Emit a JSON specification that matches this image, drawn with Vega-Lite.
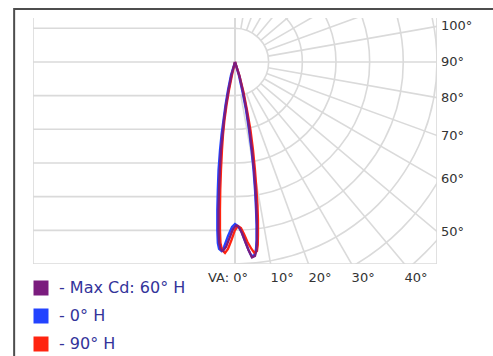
{
  "$schema": "https://vega.github.io/schema/vega-lite/v6.json",
  "width": 404,
  "height": 246,
  "autosize": {"type": "none"},
  "padding": {"left": 33, "top": 18, "right": 56, "bottom": 92},
  "background": "white",
  "config": {"view": {"stroke": null}, "font": "DejaVu Sans"},
  "datasets": {
    "frame": [{"x": -6.56, "x2": 14, "y": 1.575, "y2": -14}],
    "lines": [
      {"x": -6, "x2": 0, "y": 1, "y2": 1},
      {"x": -6, "x2": 6, "y": 0, "y2": 0},
      {"x": -6, "x2": 0, "y": -1, "y2": -1},
      {"x": -6, "x2": 0, "y": -2, "y2": -2},
      {"x": -6, "x2": 0, "y": -3, "y2": -3},
      {"x": -6, "x2": 0, "y": -4, "y2": -4},
      {"x": -6, "x2": 0, "y": -5, "y2": -5},
      {"x": -6, "x2": 6, "y": -6, "y2": -6},
      {"x": -6, "x2": -6, "y": -6, "y2": 1.306},
      {"x": 0, "x2": 0, "y": -6, "y2": 1.306},
      {"x": 6, "x2": 6, "y": -6, "y2": 1.306},
      {"x": 0.1736, "y": -0.9848, "x2": 1.736, "y2": -9.848},
      {"x": 0.342, "y": -0.9397, "x2": 3.42, "y2": -9.397},
      {"x": 0.5, "y": -0.866, "x2": 5, "y2": -8.66},
      {"x": 0.6428, "y": -0.766, "x2": 6.428, "y2": -7.66},
      {"x": 0.766, "y": -0.6428, "x2": 7.66, "y2": -6.428},
      {"x": 0.866, "y": -0.5, "x2": 8.66, "y2": -5},
      {"x": 0.9397, "y": -0.342, "x2": 9.397, "y2": -3.42},
      {"x": 0.9848, "y": -0.1736, "x2": 9.848, "y2": -1.736},
      {"x": 0.9848, "y": 0.1736, "x2": 9.848, "y2": 1.736},
      {"x": 0.9397, "y": 0.342, "x2": 9.397, "y2": 3.42},
      {"x": 0.866, "y": 0.5, "x2": 8.66, "y2": 5},
      {"x": 0.766, "y": 0.6428, "x2": 7.66, "y2": 6.428},
      {"x": 0.6428, "y": 0.766, "x2": 6.428, "y2": 7.66},
      {"x": 0.5, "y": 0.866, "x2": 5, "y2": 8.66},
      {"x": 0.342, "y": 0.9397, "x2": 3.42, "y2": 9.397},
      {"x": 0.1736, "y": 0.9848, "x2": 1.736, "y2": 9.848}
    ],
    "rings": [{"r": 1}, {"r": 2}, {"r": 3}, {"r": 4}, {"r": 5}, {"r": 6}, {"r": 7}, {"r": 8}],
    "rlabels": [
      {"t": "100°", "y": 1.058},
      {"t": "90°", "y": 0},
      {"t": "80°", "y": -1.058},
      {"t": "70°", "y": -2.184},
      {"t": "60°", "y": -3.464},
      {"t": "50°", "y": -5.035}
    ],
    "blabels": [
      {"t": "10°", "x": 1.058},
      {"t": "20°", "x": 2.184},
      {"t": "30°", "x": 3.464},
      {"t": "40°", "x": 5.035}
    ],
    "curves": [
      {"s": "Max Cd: 60° H", "i": 0, "x": 0, "y": 0},
      {"s": "Max Cd: 60° H", "i": 1, "x": -0.104, "y": -0.386},
      {"s": "Max Cd: 60° H", "i": 2, "x": -0.193, "y": -0.832},
      {"s": "Max Cd: 60° H", "i": 3, "x": -0.267, "y": -1.277},
      {"s": "Max Cd: 60° H", "i": 4, "x": -0.327, "y": -1.723},
      {"s": "Max Cd: 60° H", "i": 5, "x": -0.371, "y": -2.168},
      {"s": "Max Cd: 60° H", "i": 6, "x": -0.416, "y": -2.614},
      {"s": "Max Cd: 60° H", "i": 7, "x": -0.451, "y": -3.208},
      {"s": "Max Cd: 60° H", "i": 8, "x": -0.475, "y": -3.802},
      {"s": "Max Cd: 60° H", "i": 9, "x": -0.49, "y": -4.396},
      {"s": "Max Cd: 60° H", "i": 10, "x": -0.49, "y": -4.99},
      {"s": "Max Cd: 60° H", "i": 11, "x": -0.475, "y": -5.346},
      {"s": "Max Cd: 60° H", "i": 12, "x": -0.431, "y": -5.554},
      {"s": "Max Cd: 60° H", "i": 13, "x": -0.356, "y": -5.613},
      {"s": "Max Cd: 60° H", "i": 14, "x": -0.267, "y": -5.495},
      {"s": "Max Cd: 60° H", "i": 15, "x": -0.163, "y": -5.228},
      {"s": "Max Cd: 60° H", "i": 16, "x": -0.059, "y": -4.96},
      {"s": "Max Cd: 60° H", "i": 17, "x": 0.03, "y": -4.856},
      {"s": "Max Cd: 60° H", "i": 18, "x": 0.119, "y": -4.901},
      {"s": "Max Cd: 60° H", "i": 19, "x": 0.208, "y": -5.079},
      {"s": "Max Cd: 60° H", "i": 20, "x": 0.297, "y": -5.317},
      {"s": "Max Cd: 60° H", "i": 21, "x": 0.401, "y": -5.584},
      {"s": "Max Cd: 60° H", "i": 22, "x": 0.505, "y": -5.806},
      {"s": "Max Cd: 60° H", "i": 23, "x": 0.594, "y": -5.762},
      {"s": "Max Cd: 60° H", "i": 24, "x": 0.639, "y": -5.584},
      {"s": "Max Cd: 60° H", "i": 25, "x": 0.653, "y": -5.287},
      {"s": "Max Cd: 60° H", "i": 26, "x": 0.653, "y": -4.841},
      {"s": "Max Cd: 60° H", "i": 27, "x": 0.639, "y": -4.396},
      {"s": "Max Cd: 60° H", "i": 28, "x": 0.609, "y": -3.802},
      {"s": "Max Cd: 60° H", "i": 29, "x": 0.564, "y": -3.208},
      {"s": "Max Cd: 60° H", "i": 30, "x": 0.505, "y": -2.614},
      {"s": "Max Cd: 60° H", "i": 31, "x": 0.431, "y": -2.02},
      {"s": "Max Cd: 60° H", "i": 32, "x": 0.342, "y": -1.426},
      {"s": "Max Cd: 60° H", "i": 33, "x": 0.238, "y": -0.891},
      {"s": "Max Cd: 60° H", "i": 34, "x": 0.134, "y": -0.416},
      {"s": "Max Cd: 60° H", "i": 35, "x": 0, "y": 0},
      {"s": "0° H", "i": 0, "x": 0, "y": 0},
      {"s": "0° H", "i": 1, "x": -0.119, "y": -0.386},
      {"s": "0° H", "i": 2, "x": -0.208, "y": -0.832},
      {"s": "0° H", "i": 3, "x": -0.282, "y": -1.277},
      {"s": "0° H", "i": 4, "x": -0.342, "y": -1.723},
      {"s": "0° H", "i": 5, "x": -0.401, "y": -2.168},
      {"s": "0° H", "i": 6, "x": -0.446, "y": -2.614},
      {"s": "0° H", "i": 7, "x": -0.49, "y": -3.208},
      {"s": "0° H", "i": 8, "x": -0.511, "y": -3.802},
      {"s": "0° H", "i": 9, "x": -0.526, "y": -4.396},
      {"s": "0° H", "i": 10, "x": -0.526, "y": -4.99},
      {"s": "0° H", "i": 11, "x": -0.511, "y": -5.376},
      {"s": "0° H", "i": 12, "x": -0.475, "y": -5.554},
      {"s": "0° H", "i": 13, "x": -0.401, "y": -5.613},
      {"s": "0° H", "i": 14, "x": -0.327, "y": -5.495},
      {"s": "0° H", "i": 15, "x": -0.208, "y": -5.168},
      {"s": "0° H", "i": 16, "x": -0.089, "y": -4.901},
      {"s": "0° H", "i": 17, "x": 0, "y": -4.811},
      {"s": "0° H", "i": 18, "x": 0.089, "y": -4.871},
      {"s": "0° H", "i": 19, "x": 0.193, "y": -5.049},
      {"s": "0° H", "i": 20, "x": 0.297, "y": -5.317},
      {"s": "0° H", "i": 21, "x": 0.401, "y": -5.584},
      {"s": "0° H", "i": 22, "x": 0.49, "y": -5.762},
      {"s": "0° H", "i": 23, "x": 0.579, "y": -5.732},
      {"s": "0° H", "i": 24, "x": 0.624, "y": -5.554},
      {"s": "0° H", "i": 25, "x": 0.639, "y": -5.287},
      {"s": "0° H", "i": 26, "x": 0.639, "y": -4.841},
      {"s": "0° H", "i": 27, "x": 0.624, "y": -4.396},
      {"s": "0° H", "i": 28, "x": 0.594, "y": -3.802},
      {"s": "0° H", "i": 29, "x": 0.549, "y": -3.208},
      {"s": "0° H", "i": 30, "x": 0.49, "y": -2.614},
      {"s": "0° H", "i": 31, "x": 0.416, "y": -2.02},
      {"s": "0° H", "i": 32, "x": 0.327, "y": -1.426},
      {"s": "0° H", "i": 33, "x": 0.223, "y": -0.891},
      {"s": "0° H", "i": 34, "x": 0.119, "y": -0.416},
      {"s": "0° H", "i": 35, "x": 0, "y": 0},
      {"s": "90° H", "i": 0, "x": 0, "y": 0},
      {"s": "90° H", "i": 1, "x": -0.089, "y": -0.386},
      {"s": "90° H", "i": 2, "x": -0.178, "y": -0.832},
      {"s": "90° H", "i": 3, "x": -0.252, "y": -1.277},
      {"s": "90° H", "i": 4, "x": -0.312, "y": -1.723},
      {"s": "90° H", "i": 5, "x": -0.356, "y": -2.168},
      {"s": "90° H", "i": 6, "x": -0.386, "y": -2.614},
      {"s": "90° H", "i": 7, "x": -0.416, "y": -3.208},
      {"s": "90° H", "i": 8, "x": -0.437, "y": -3.802},
      {"s": "90° H", "i": 9, "x": -0.446, "y": -4.396},
      {"s": "90° H", "i": 10, "x": -0.446, "y": -4.99},
      {"s": "90° H", "i": 11, "x": -0.431, "y": -5.376},
      {"s": "90° H", "i": 12, "x": -0.386, "y": -5.584},
      {"s": "90° H", "i": 13, "x": -0.297, "y": -5.673},
      {"s": "90° H", "i": 14, "x": -0.208, "y": -5.554},
      {"s": "90° H", "i": 15, "x": -0.104, "y": -5.287},
      {"s": "90° H", "i": 16, "x": 0, "y": -4.99},
      {"s": "90° H", "i": 17, "x": 0.089, "y": -4.871},
      {"s": "90° H", "i": 18, "x": 0.178, "y": -4.93},
      {"s": "90° H", "i": 19, "x": 0.267, "y": -5.109},
      {"s": "90° H", "i": 20, "x": 0.371, "y": -5.346},
      {"s": "90° H", "i": 21, "x": 0.49, "y": -5.554},
      {"s": "90° H", "i": 22, "x": 0.579, "y": -5.673},
      {"s": "90° H", "i": 23, "x": 0.653, "y": -5.613},
      {"s": "90° H", "i": 24, "x": 0.677, "y": -5.435},
      {"s": "90° H", "i": 25, "x": 0.683, "y": -5.138},
      {"s": "90° H", "i": 26, "x": 0.683, "y": -4.693},
      {"s": "90° H", "i": 27, "x": 0.668, "y": -4.247},
      {"s": "90° H", "i": 28, "x": 0.639, "y": -3.802},
      {"s": "90° H", "i": 29, "x": 0.594, "y": -3.208},
      {"s": "90° H", "i": 30, "x": 0.535, "y": -2.614},
      {"s": "90° H", "i": 31, "x": 0.46, "y": -2.02},
      {"s": "90° H", "i": 32, "x": 0.356, "y": -1.426},
      {"s": "90° H", "i": 33, "x": 0.252, "y": -0.891},
      {"s": "90° H", "i": 34, "x": 0.134, "y": -0.416},
      {"s": "90° H", "i": 35, "x": 0, "y": 0}
    ]
  },
  "layer": [
    {
      "data": {"name": "frame"},
      "mark": {"type": "rect", "fill": null, "stroke": "#4d4d4d", "strokeWidth": 2, "clip": false},
      "encoding": {
        "x": {"field": "x", "type": "quantitative", "scale": {"domain": [-6, 6], "nice": false, "zero": false}, "axis": null},
        "x2": {"field": "x2"},
        "y": {"field": "y", "type": "quantitative", "scale": {"domain": [-6, 1.306], "nice": false, "zero": false}, "axis": null},
        "y2": {"field": "y2"}
      }
    },
    {
      "data": {"name": "lines"},
      "mark": {"type": "rule", "stroke": "#dadada", "strokeWidth": 1.6, "clip": true},
      "encoding": {
        "x": {"field": "x", "type": "quantitative"},
        "x2": {"field": "x2"},
        "y": {"field": "y", "type": "quantitative"},
        "y2": {"field": "y2"}
      }
    },
    {
      "data": {"name": "rings"},
      "mark": {"type": "arc", "theta": 0, "theta2": 3.14159, "fill": null, "stroke": "#dadada", "strokeWidth": 1.6, "clip": true},
      "encoding": {
        "x": {"datum": 0, "type": "quantitative"},
        "y": {"datum": 0, "type": "quantitative"},
        "radius": {"field": "r", "type": "quantitative", "stack": null, "scale": {"type": "linear", "domain": [0, 6], "range": [0, 202], "zero": true}, "legend": null}
      }
    },
    {
      "data": {"name": "rlabels"},
      "mark": {"type": "text", "align": "left", "baseline": "middle", "dx": 4, "fontSize": 13, "fill": "#333333"},
      "encoding": {
        "x": {"datum": 6, "type": "quantitative"},
        "y": {"field": "y", "type": "quantitative"},
        "text": {"field": "t"}
      }
    },
    {
      "data": {"name": "blabels"},
      "mark": {"type": "text", "align": "left", "baseline": "middle", "dy": 14, "fontSize": 13, "fill": "#333333"},
      "encoding": {
        "x": {"field": "x", "type": "quantitative"},
        "y": {"datum": -6, "type": "quantitative"},
        "text": {"field": "t"}
      }
    },
    {
      "data": {"values": [{"t": "VA: 0°"}]},
      "mark": {"type": "text", "align": "right", "baseline": "middle", "dx": 13, "dy": 14, "fontSize": 13, "fill": "#333333"},
      "encoding": {
        "x": {"datum": 0, "type": "quantitative"},
        "y": {"datum": -6, "type": "quantitative"},
        "text": {"field": "t"}
      }
    },
    {
      "data": {"name": "curves"},
      "transform": [{"filter": "datum.s === '0° H'"}],
      "mark": {"type": "line", "strokeWidth": 2.3, "clip": true},
      "encoding": {
        "x": {"field": "x", "type": "quantitative"},
        "y": {"field": "y", "type": "quantitative"},
        "order": {"field": "i"},
        "color": {"field": "s", "type": "nominal", "scale": {"domain": ["Max Cd: 60° H", "0° H", "90° H"], "range": ["#7b1c7e", "#2343ff", "#ff2410"]},
          "legend": {"orient": "none", "legendX": 0, "legendY": 262, "title": null, "symbolType": "square", "symbolSize": 49, "symbolStrokeWidth": 8, "symbolOpacity": 1, "labelFontSize": 16, "labelColor": "#33339a", "labelFont": "DejaVu Sans", "labelOffset": 10, "rowPadding": -25, "padding": 0, "labelExpr": "'- ' + datum.label"}}
      }
    },
    {
      "data": {"name": "curves"},
      "transform": [{"filter": "datum.s === '90° H'"}],
      "mark": {"type": "line", "strokeWidth": 2.3, "clip": true},
      "encoding": {
        "x": {"field": "x", "type": "quantitative"},
        "y": {"field": "y", "type": "quantitative"},
        "order": {"field": "i"},
        "color": {"field": "s", "type": "nominal"}
      }
    },
    {
      "data": {"name": "curves"},
      "transform": [{"filter": "datum.s === 'Max Cd: 60° H'"}],
      "mark": {"type": "line", "strokeWidth": 2.3, "clip": true},
      "encoding": {
        "x": {"field": "x", "type": "quantitative"},
        "y": {"field": "y", "type": "quantitative"},
        "order": {"field": "i"},
        "color": {"field": "s", "type": "nominal"}
      }
    }
  ]
}
